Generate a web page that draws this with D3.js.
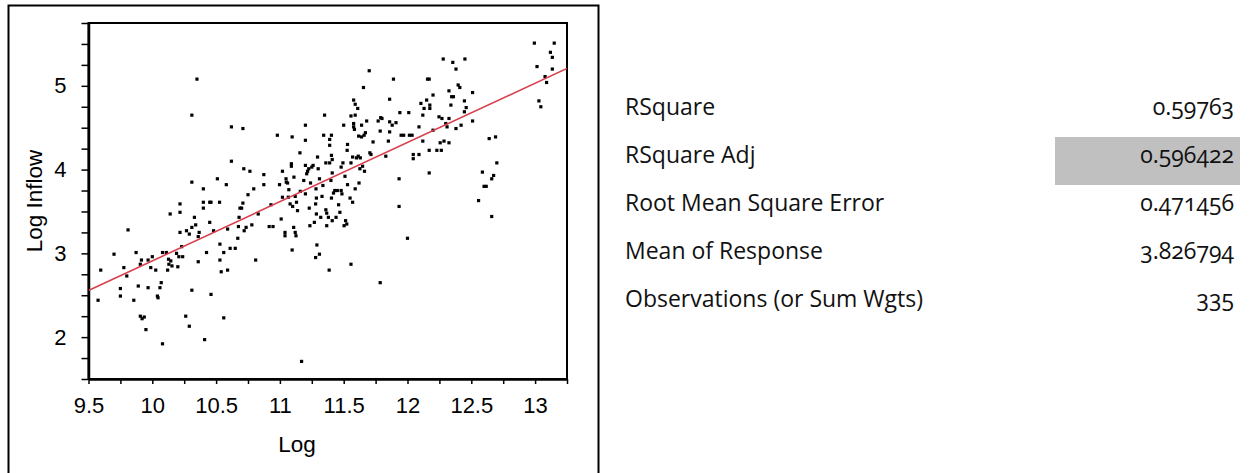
<!DOCTYPE html>
<html>
<head>
<meta charset="utf-8">
<script src="https://cdn.jsdelivr.net/npm/d3@7"></script>
<style>
  body { margin: 0; background: #fff; }
  svg { display: block; }
</style>
</head>
<body>
<script>
// scatter points: [Log, Log Inflow]
const points = [
  [9.575,2.44],[9.596,2.80],[9.70,2.99],[9.75,2.58],[9.75,2.49],[9.777,2.83],[9.80,2.73],[9.81,3.28],
  [9.855,2.44],[9.873,3.01],[9.89,2.61],[9.906,2.87],[9.915,2.92],[9.906,2.25],[9.92,2.22],[9.937,2.24],
  [9.95,2.09],[9.967,2.59],[9.967,2.92],[9.988,2.83],[10.0,2.96],[10.027,2.80],[10.04,2.49],[10.045,2.47],
  [10.06,2.59],[10.07,2.65],[10.08,1.92],[10.08,3.01],[10.11,3.01],[10.12,2.80],[10.127,2.93],[10.13,2.87],
  [10.14,3.47],[10.145,2.91],[10.154,2.85],[10.19,3.00],[10.2,2.84],[10.208,2.96],[10.217,3.59],[10.217,3.49],
  [10.217,3.25],[10.23,3.08],[10.238,2.96],[10.262,2.25],[10.268,3.27],[10.29,3.23],[10.29,2.13],[10.31,3.85],
  [10.31,2.56],[10.31,3.31],[10.33,3.43],[10.34,3.34],[10.35,5.08],[10.31,4.65],[10.36,3.20],[10.36,2.90],
  [10.367,3.25],[10.40,3.77],[10.40,3.61],[10.40,3.54],[10.41,1.97],[10.425,3.01],[10.45,3.37],[10.45,3.61],
  [10.46,3.61],[10.46,2.51],[10.48,3.27],[10.51,3.89],[10.527,3.61],[10.53,3.11],[10.53,2.92],[10.54,2.78],
  [10.56,2.23],[10.56,3.01],[10.58,3.82],[10.59,3.29],[10.59,2.80],[10.61,3.06],[10.62,4.51],[10.62,4.10],
  [10.65,3.06],[10.67,3.18],[10.675,3.32],[10.68,3.43],[10.687,3.54],[10.70,3.54],[10.71,3.60],[10.71,4.49],
  [10.717,4.01],[10.72,3.27],[10.735,3.31],[10.75,3.70],[10.765,3.98],[10.78,3.34],[10.795,3.77],[10.81,2.92],
  [10.83,3.47],[10.874,3.94],[10.874,3.82],[10.916,3.32],[10.93,3.58],[10.946,3.32],[10.98,4.41],[10.997,3.82],
  [11.01,3.41],[11.02,3.98],[11.02,3.67],[11.04,3.25],[11.04,3.21],[11.048,3.89],[11.05,3.85],[11.06,3.84],
  [11.066,3.67],[11.07,3.76],[11.08,3.59],[11.09,4.07],[11.09,4.04],[11.096,4.39],[11.096,3.04],[11.10,3.56],
  [11.108,3.31],[11.11,3.91],[11.12,3.68],[11.12,3.25],[11.126,3.21],[11.13,3.61],[11.138,3.51],[11.157,4.20],
  [11.16,3.74],[11.17,1.71],[11.187,3.87],[11.2,4.53],[11.2,4.35],[11.2,4.05],[11.2,3.71],[11.21,3.95],
  [11.217,3.98],[11.226,4.01],[11.23,3.54],[11.235,3.33],[11.24,3.84],[11.25,4.03],[11.26,4.05],[11.27,3.37],
  [11.28,3.59],[11.28,2.95],[11.283,3.77],[11.286,3.47],[11.286,3.66],[11.29,3.10],[11.295,4.15],[11.30,4.01],
  [11.31,2.99],[11.31,3.89],[11.32,3.43],[11.33,3.68],[11.337,3.81],[11.343,4.41],[11.35,4.65],[11.36,3.52],
  [11.36,4.08],[11.367,3.48],[11.367,3.33],[11.38,3.43],[11.386,2.80],[11.39,4.36],[11.39,4.29],[11.39,4.08],
  [11.40,3.87],[11.404,4.41],[11.404,4.17],[11.404,3.66],[11.41,3.96],[11.41,4.12],[11.41,3.39],[11.42,3.72],
  [11.43,3.75],[11.44,3.43],[11.45,3.75],[11.46,3.58],[11.47,3.49],[11.48,4.03],[11.48,3.75],[11.486,3.71],
  [11.494,4.08],[11.5,4.53],[11.503,3.33],[11.51,3.92],[11.515,3.39],[11.524,3.35],[11.527,4.23],[11.53,4.30],
  [11.53,3.82],[11.55,3.66],[11.557,2.87],[11.557,4.08],[11.557,4.64],[11.57,3.61],[11.57,4.15],[11.578,4.83],
  [11.578,4.55],[11.578,4.51],[11.584,4.48],[11.59,4.65],[11.59,4.78],[11.59,3.77],[11.60,4.14],[11.61,4.73],
  [11.614,4.16],[11.617,4.40],[11.62,3.84],[11.627,4.01],[11.63,4.14],[11.64,4.53],[11.64,4.39],[11.648,4.04],
  [11.655,4.98],[11.66,4.41],[11.663,3.98],[11.67,4.44],[11.68,4.58],[11.70,5.18],[11.705,4.20],[11.714,4.18],
  [11.73,4.33],[11.77,4.58],[11.786,4.46],[11.786,2.65],[11.79,4.62],[11.80,4.61],[11.83,4.16],[11.85,4.34],
  [11.86,4.84],[11.86,4.45],[11.86,4.57],[11.88,4.53],[11.89,5.08],[11.91,4.56],[11.934,3.89],[11.934,3.56],
  [11.94,4.68],[11.95,4.41],[11.97,4.41],[12.0,3.18],[12.01,4.68],[12.015,4.41],[12.036,4.41],[12.045,4.18],
  [12.045,4.13],[12.09,4.18],[12.09,4.51],[12.105,4.79],[12.12,4.65],[12.12,4.34],[12.13,4.73],[12.15,4.83],
  [12.157,5.08],[12.17,3.96],[12.17,4.23],[12.17,5.08],[12.175,4.77],[12.175,4.73],[12.2,4.47],[12.2,4.89],
  [12.23,4.23],[12.247,4.63],[12.256,4.32],[12.265,4.23],[12.27,4.61],[12.28,5.32],[12.286,4.34],[12.30,4.55],
  [12.31,4.51],[12.325,4.61],[12.325,4.94],[12.325,4.32],[12.34,4.77],[12.346,4.87],[12.355,5.28],[12.36,4.87],
  [12.38,5.20],[12.38,4.49],[12.397,5.01],[12.41,4.98],[12.42,4.53],[12.446,4.82],[12.446,4.69],[12.45,5.32],
  [12.46,4.74],[12.51,4.92],[12.51,4.58],[12.557,3.63],[12.587,3.97],[12.60,3.80],[12.617,3.80],[12.64,4.37],
  [12.66,3.89],[12.66,3.44],[12.675,3.93],[12.69,4.39],[12.70,4.08],[12.994,5.51],[13.015,5.23],[13.03,4.82],
  [13.045,4.75],[13.078,5.11],[13.09,5.04],[13.12,5.40],[13.135,5.34],[13.135,5.20],[13.15,5.51]
];

// fitted line: Log Inflow = intercept + slope * Log
const fitIntercept = -4.16;
const fitSlope = 0.707;

// x / y axis tick values (every 0.25, labelled on the 0.5 / whole steps)
const xTicks = d3.range(9.5, 13.26, 0.25);
const yTicks = d3.range(1.5, 5.76, 0.25);

// summary of fit table
const statLabels = ["RSquare", "RSquare Adj", "Root Mean Square Error", "Mean of Response", "Observations (or Sum Wgts)"];
const statValues = ["0.59763", "0.596422", "0.471456", "3.826794", "335"];

const W = 1249, H = 473;
const plot = { left: 88.5, right: 567, top: 23, bottom: 379 };

const svg = d3.select("body").append("svg")
  .attr("width", W)
  .attr("height", H);

svg.append("rect").attr("width", W).attr("height", H).attr("fill", "#fff");

// outer frame round the graph
svg.append("rect")
  .attr("x", 8.5).attr("y", 5.5)
  .attr("width", 590).attr("height", 490)
  .attr("fill", "none").attr("stroke", "#000").attr("stroke-width", 2);

const x = d3.scaleLinear().domain([9.5, 13.25]).range([plot.left, plot.right]);
const y = d3.scaleLinear().domain([1.5, 5.75]).range([plot.bottom, plot.top]);

const fmtX = d => (Math.abs(d * 2 - Math.round(d * 2)) < 1e-6) ? d3.format("~g")(d) : "";
const fmtY = d => (Math.abs(d - Math.round(d)) < 1e-6 && d >= 2) ? d3.format("d")(d) : "";

const xAxis = svg.append("g")
  .attr("transform", `translate(0,${plot.bottom})`)
  .call(d3.axisBottom(x).tickValues(xTicks).tickFormat(fmtX).tickSize(5).tickSizeOuter(0).tickPadding(13));
const yAxis = svg.append("g")
  .attr("transform", `translate(${plot.left},0)`)
  .call(d3.axisLeft(y).tickValues(yTicks).tickFormat(fmtY).tickSize(7).tickSizeOuter(0).tickPadding(15));

[xAxis, yAxis].forEach(g => {
  g.selectAll("text").attr("font-family", "'Liberation Sans', Arial, sans-serif").attr("font-size", 22).attr("fill", "#000");
  g.selectAll("line").attr("stroke", "#000").attr("stroke-width", 1.5);
  g.select(".domain").attr("stroke", "#000").attr("stroke-width", 2.5);
});

// plot box border
svg.append("rect")
  .attr("x", plot.left).attr("y", plot.top)
  .attr("width", plot.right - plot.left).attr("height", plot.bottom - plot.top)
  .attr("fill", "none").attr("stroke", "#000").attr("stroke-width", 2);

svg.append("clipPath").attr("id", "clip")
  .append("rect").attr("x", plot.left).attr("y", plot.top)
  .attr("width", plot.right - plot.left).attr("height", plot.bottom - plot.top);

// points
svg.append("g").selectAll("rect")
  .data(points)
  .enter().append("rect")
  .attr("x", d => x(d[0]) - 1.6)
  .attr("y", d => y(d[1]) - 1.6)
  .attr("width", 3.2)
  .attr("height", 3.2)
  .attr("fill", "#000");

// fit line
const xs = x.domain();
svg.append("line")
  .attr("clip-path", "url(#clip)")
  .attr("x1", x(xs[0])).attr("y1", y(fitIntercept + fitSlope * xs[0]))
  .attr("x2", x(xs[1])).attr("y2", y(fitIntercept + fitSlope * xs[1]))
  .attr("stroke", "#d9404f").attr("stroke-width", 1.6);

// axis titles
svg.append("text")
  .attr("x", 297).attr("y", 452)
  .attr("text-anchor", "middle")
  .attr("font-family", "'Liberation Sans', Arial, sans-serif").attr("font-size", 22.5)
  .text("Log");
svg.append("text")
  .attr("transform", `translate(42,${(plot.top + plot.bottom) / 2}) rotate(-90)`)
  .attr("text-anchor", "middle")
  .attr("font-family", "'Liberation Sans', Arial, sans-serif").attr("font-size", 22.5)
  .text("Log Inflow");

// table
const rowY = d3.scalePoint().domain(statLabels).range([115, 307]);
svg.append("rect")
  .attr("x", 1055).attr("y", 137)
  .attr("width", 185).attr("height", 48)
  .attr("fill", "#c0c0c0");

const rows = svg.append("g")
  .attr("font-family", "'Open Sans', Lato, sans-serif")
  .attr("font-size", 23)
  .attr("fill", "#111");
rows.selectAll("text.lab")
  .data(statLabels)
  .enter().append("text")
  .attr("class", "lab")
  .attr("x", 625).attr("y", d => rowY(d))
  .text(d => d);
rows.selectAll("text.val")
  .data(statValues)
  .enter().append("text")
  .attr("class", "val")
  .attr("x", 1234).attr("y", (d, i) => rowY(statLabels[i]))
  .attr("text-anchor", "end")
  .style("font-variant-numeric", "oldstyle-nums")
  .text(d => d);
</script>
</body>
</html>
